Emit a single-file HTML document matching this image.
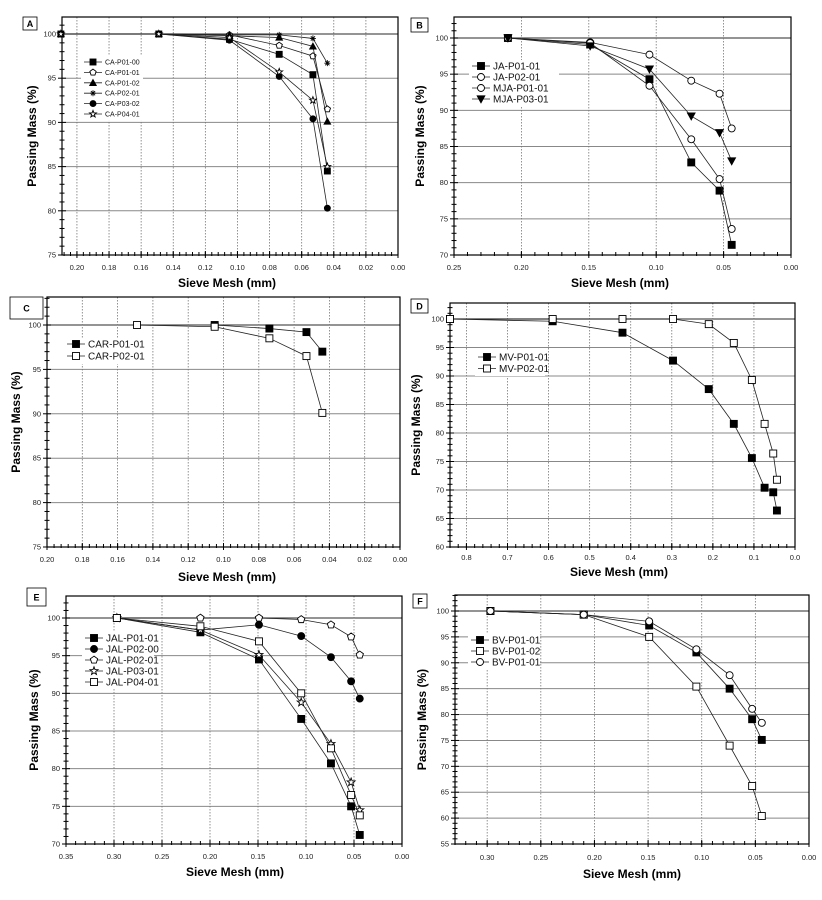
<!DOCTYPE html>
<html><head><meta charset="utf-8"><style>
html,body{margin:0;padding:0;background:#fff;}
svg{display:block;font-family:"Liberation Sans",Arial,sans-serif;}
</style></head><body>
<svg id="chart" width="822" height="900" viewBox="0 0 822 900" xmlns="http://www.w3.org/2000/svg"></svg>
<script>
// ---- Data ----
const sieveA = [0.21, 0.149, 0.105, 0.074, 0.053, 0.044];
const namesA = ["CA-P01-00","CA-P01-01","CA-P01-02","CA-P02-01","CA-P03-02","CA-P04-01"];
const caP0100 = [100,100,99.4,97.7,95.4,84.5];
const caP0101 = [100,100,99.9,98.7,97.5,91.5];
const caP0102 = [100,100,99.8,99.6,98.6,90.1];
const caP0201 = [100,100,99.9,99.9,99.5,96.7];
const caP0302 = [100,100,99.3,95.2,90.4,80.3];
const caP0401 = [100,100,99.6,95.7,92.5,85.0];
const xTicksA = ["0.20","0.18","0.16","0.14","0.12","0.10","0.08","0.06","0.04","0.02","0.00"];
const yTicksA = [75,80,85,90,95,100];

const sieveB = [0.21, 0.149, 0.105, 0.074, 0.053, 0.044];
const namesB = ["JA-P01-01","JA-P02-01","MJA-P01-01","MJA-P03-01"];
const jaP0101 = [100,99.1,94.3,82.8,78.9,71.4];
const jaP0201 = [100,99.4,97.7,94.1,92.3,87.5];
const mjaP0101 = [100,99.3,93.4,86.0,80.5,73.6];
const mjaP0301 = [100,98.9,95.7,89.2,86.9,83.0];
const xTicksB = ["0.25","0.20","0.15","0.10","0.05","0.00"];
const yTicksB = [70,75,80,85,90,95,100];

const sieveC1 = [0.105, 0.074, 0.053, 0.044];
const sieveC2 = [0.149, 0.105, 0.074, 0.053, 0.044];
const namesC = ["CAR-P01-01","CAR-P02-01"];
const carP0101 = [100,99.6,99.2,97.0];
const carP0201 = [100,99.8,98.5,96.5,90.1];
const xTicksC = ["0.20","0.18","0.16","0.14","0.12","0.10","0.08","0.06","0.04","0.02","0.00"];
const yTicksC = [75,80,85,90,95,100];

const sieveD = [0.84,0.59,0.42,0.297,0.21,0.149,0.105,0.074,0.053,0.044];
const namesD = ["MV-P01-01","MV-P02-01"];
const mvP0101 = [100,99.6,97.6,92.7,87.7,81.6,75.6,70.4,69.6,66.4];
const mvP0201 = [100,100,100,100,99.1,95.8,89.3,81.6,76.4,71.8];
const xTicksD = ["0.8","0.7","0.6","0.5","0.4","0.3","0.2","0.1","0.0"];
const yTicksD = [60,65,70,75,80,85,90,95,100];

const sieveE = [0.297,0.21,0.149,0.105,0.074,0.053,0.044];
const namesE = ["JAL-P01-01","JAL-P02-00","JAL-P02-01","JAL-P03-01","JAL-P04-01"];
const jalP0101 = [100,98.1,94.5,86.6,80.7,75.0,71.2];
const jalP0200 = [100,98.4,99.1,97.6,94.8,91.6,89.3];
const jalP0201 = [100,100,100,99.8,99.1,97.5,95.1];
const jalP0301 = [100,98.4,95.1,88.8,83.3,78.2,74.5];
const jalP0401 = [100,98.9,96.9,90.0,82.7,76.5,73.8];
const xTicksE = ["0.35","0.30","0.25","0.20","0.15","0.10","0.05","0.00"];
const yTicksE = [70,75,80,85,90,95,100];

const sieveF = [0.297,0.21,0.149,0.105,0.074,0.053,0.044];
const namesF = ["BV-P01-01","BV-P01-02","BV-P01-01"];
const bvP0101 = [100,99.3,97.2,92.0,85.0,79.1,75.1];
const bvP0102 = [100,99.3,95.0,85.4,74.0,66.2,60.4];
const bvP0101b = [100,99.3,98.0,92.6,87.6,81.1,78.4];
const xTicksF = ["0.30","0.25","0.20","0.15","0.10","0.05","0.00"];
const yTicksF = [55,60,65,70,75,80,85,90,95,100];

// ---- Layout ----
const NS = "http://www.w3.org/2000/svg";
const svg = document.getElementById("chart");
function mk(tag, attrs, parent){
  const e = document.createElementNS(NS, tag);
  for (const k in attrs) e.setAttribute(k, attrs[k]);
  (parent||svg).appendChild(e);
  return e;
}

function marker(g, type, cx, cy, r){
  let e;
  const fillC = type.endsWith("-f") ? "#000" : "#fff";
  const base = {stroke:"#000","stroke-width":0.9, fill:fillC};
  if (type.startsWith("sq")) e = mk("rect", Object.assign({x:cx-r,y:cy-r,width:2*r,height:2*r}, base), g);
  else if (type.startsWith("ci")) e = mk("circle", Object.assign({cx:cx,cy:cy,r:r}, base), g);
  else if (type.startsWith("tri")) e = mk("polygon", Object.assign({points:`${cx},${cy-r*1.1} ${cx-r*1.1},${cy+r*0.9} ${cx+r*1.1},${cy+r*0.9}`}, base), g);
  else if (type.startsWith("dn")) e = mk("polygon", Object.assign({points:`${cx},${cy+r*1.1} ${cx-r*1.1},${cy-r*0.9} ${cx+r*1.1},${cy-r*0.9}`}, base), g);
  else if (type.startsWith("hex")) {
    let p=[]; for(let i=0;i<5;i++){const a=-Math.PI/2+i*2*Math.PI/5;p.push((cx+r*1.1*Math.cos(a)).toFixed(2)+","+(cy+r*1.1*Math.sin(a)).toFixed(2));}
    e = mk("polygon", Object.assign({points:p.join(" ")}, base), g);
  } else if (type.startsWith("star")) {
    let p=[]; for(let i=0;i<10;i++){const a=-Math.PI/2+i*Math.PI/5;const rr=i%2?r*0.5:r*1.2;p.push((cx+rr*Math.cos(a)).toFixed(2)+","+(cy+rr*Math.sin(a)).toFixed(2));}
    e = mk("polygon", Object.assign({points:p.join(" ")}, base), g);
  } else if (type.startsWith("ast")) {
    e = mk("path", {d:`M${cx-r},${cy}H${cx+r}M${cx-r*0.7},${cy-r*0.7}L${cx+r*0.7},${cy+r*0.7}M${cx-r*0.7},${cy+r*0.7}L${cx+r*0.7},${cy-r*0.7}M${cx},${cy-r}V${cy+r}`, stroke:"#000","stroke-width":0.9, fill:"none"}, g);
  }
  return e;
}

function drawPanel(p){
  const g = mk("g", {});
  
  
  const X = v => p.L + (p.xmax - v) / (p.xmax - p.xmin) * (p.R - p.L);
  const Y = v => p.yAt100 + (100 - v) / (100 - p.ymin) * (p.B - p.yAt100);
  // horizontal gridlines
  p.yTicks.forEach(t => {
    const l = mk("line", {x1:p.L,x2:p.R,y1:Y(t),y2:Y(t),stroke:t===100?"#555":"#888","stroke-width":t===100?1.2:1}, g);
    
    
  });
  // vertical dotted gridlines
  p.xTicks.forEach(t => {
    const v = parseFloat(t), x = X(v);
    if (x > p.L+2 && x < p.R-2) {
      const l = mk("line", {x1:x,x2:x,y1:p.T,y2:p.B,stroke:"#777","stroke-width":0.8,"stroke-dasharray":"1.5,1.5"}, g);
      
      
    }
  });
  // frame
  const fr = mk("rect", {x:p.L,y:p.T,width:p.R-p.L,height:p.B-p.T,fill:"none",stroke:"#000","stroke-width":1.2}, g);
  
  
  // y ticks
  const yTop = p.ymin + (100 - p.ymin) * (p.B - p.T) / (p.B - p.yAt100);
  for (let v = p.ymin; v <= yTop + 0.001; v += 1) {
    const major = Math.abs(v % 5) < 0.001;
    const w = major ? 4 : 2.5;
    mk("line", {x1:p.L-w,x2:p.L+w,y1:Y(v),y2:Y(v),stroke:"#000","stroke-width":1}, g);
  }
  p.yTicks.forEach(t => {
    const tx = mk("text", {x:p.L-6,y:Y(t)+2.5,"font-size":7.5,"text-anchor":"end",fill:"#222"}, g);
    tx.textContent = t;
    
    
  });
  // x ticks
  const step = p.xMinor;
  for (let v = p.xmin; v <= p.xmax + 1e-9; v += step) {
    const x = X(v); if (x < p.L - 0.5) continue;
    mk("line", {x1:x,x2:x,y1:p.B-3,y2:p.B+1,stroke:"#000","stroke-width":1}, g);
  }
  p.xTicks.forEach(t => {
    const x = X(parseFloat(t));
    mk("line", {x1:x,x2:x,y1:p.B-4,y2:p.B+3,stroke:"#000","stroke-width":1}, g);
    const tx = mk("text", {x:x,y:p.tickY,"font-size":7.5,"text-anchor":"middle",fill:"#222"}, g);
    tx.textContent = t;
    
    
  });
  // titles
  const xt = mk("text", {x:p.xTitleX,y:p.xTitleY,"font-size":12,"font-weight":"bold","text-anchor":"middle"}, g);
  xt.textContent = "Sieve Mesh (mm)";
  
  
  const ytx = p.yTitleX, yty = (p.T + p.B) / 2;
  const yt = mk("text", {x:ytx,y:yty,"font-size":12,"font-weight":"bold","text-anchor":"middle",transform:`rotate(-90 ${ytx} ${yty})`}, g);
  yt.textContent = "Passing Mass (%)";
  
  
  // panel label box
  const lb = mk("rect", {x:p.lab[0],y:p.lab[1],width:p.lab[2],height:p.lab[3],fill:"#fff",stroke:"#000","stroke-width":0.8}, g);
  
  
  const lt = mk("text", {x:p.lab[0]+p.lab[2]/2,y:p.lab[1]+p.lab[3]/2+3.5,"font-size":9,"font-weight":"bold","text-anchor":"middle"}, g);
  lt.textContent = p.id;
  
  
  // legend background
  const lg = p.legend;
  const lbg = mk("rect", {x:lg.x-12,y:lg.y-6,width:lg.w,height:lg.dy*p.series.length+2,fill:"#fff"}, g);
  
  
  // series
  p.series.forEach((s, i) => {
    const sg = mk("g", {}, g);
    
    
    const pts = s.x.map((xv, j) => X(xv).toFixed(2) + "," + Y(s.y[j]).toFixed(2)).join(" ");
    const pl = mk("polyline", {points:pts,fill:"none",stroke:"#222","stroke-width":0.8}, sg);
    
    
    s.x.forEach((xv, j) => {
      const m = marker(sg, s.m, X(xv), Y(s.y[j]), p.mr);
      
      
    });
    // legend entry
    const ly = lg.y + i * lg.dy;
    const le = mk("g", {}, g);
    
    
    mk("line", {x1:lg.x-9,x2:lg.x+9,y1:ly,y2:ly,stroke:"#222","stroke-width":0.8}, le);
    marker(le, s.m, lg.x, ly, p.mr);
    const t = mk("text", {x:lg.x+12,y:ly+lg.fs*0.36,"font-size":lg.fs,fill:"#111"}, le);
    t.textContent = s.name;
  });
}

const panels = [
 {id:"A",L:62,R:398,T:17,B:255,xmin:0,xmax:0.2093,xMinor:0.004,yAt100:34,ymin:75,xTicks:xTicksA,yTicks:yTicksA,
  tickY:270,xTitleX:227,xTitleY:287,yTitleX:36,lab:[23,17,14,13],mr:3,
  legend:{x:93,y:62,dy:10.4,fs:7,w:62},
  series:[{name:namesA[0],x:sieveA,y:caP0100,m:"sq-f"},{name:namesA[1],x:sieveA,y:caP0101,m:"hex-o"},{name:namesA[2],x:sieveA,y:caP0102,m:"tri-f"},
          {name:namesA[3],x:sieveA,y:caP0201,m:"ast"},{name:namesA[4],x:sieveA,y:caP0302,m:"ci-f"},{name:namesA[5],x:sieveA,y:caP0401,m:"star-o"}]},
 {id:"B",L:454,R:791,T:17,B:255,xmin:0,xmax:0.25,xMinor:0.01,yAt100:38,ymin:70,xTicks:xTicksB,yTicks:yTicksB,
  tickY:270,xTitleX:620,xTitleY:287,yTitleX:424,lab:[411,18,17,14],mr:3.5,
  legend:{x:481,y:66,dy:11,fs:10,w:90},
  series:[{name:namesB[0],x:sieveB,y:jaP0101,m:"sq-f"},{name:namesB[1],x:sieveB,y:jaP0201,m:"ci-o"},{name:namesB[2],x:sieveB,y:mjaP0101,m:"ci-o"},{name:namesB[3],x:sieveB,y:mjaP0301,m:"dn-f"}]},
 {id:"C",L:47,R:400,T:297,B:547,xmin:0,xmax:0.2,xMinor:0.004,yAt100:325,ymin:75,xTicks:xTicksC,yTicks:yTicksC,
  tickY:562,xTitleX:227,xTitleY:581,yTitleX:20,lab:[10,297,33,22],mr:3.5,
  legend:{x:76,y:344,dy:12,fs:10,w:80},
  series:[{name:namesC[0],x:sieveC1,y:carP0101,m:"sq-f"},{name:namesC[1],x:sieveC2,y:carP0201,m:"sq-o"}]},
 {id:"D",L:450,R:795,T:303,B:547,xmin:0,xmax:0.84,xMinor:0.02,yAt100:319,ymin:60,xTicks:xTicksD,yTicks:yTicksD,
  tickY:560,xTitleX:619,xTitleY:576,yTitleX:420,lab:[411,299,17,14],mr:3.5,
  legend:{x:487,y:357,dy:11.5,fs:10,w:70},
  series:[{name:namesD[0],x:sieveD,y:mvP0101,m:"sq-f"},{name:namesD[1],x:sieveD,y:mvP0201,m:"sq-o"}]},
 {id:"E",L:66,R:402,T:596,B:844,xmin:0,xmax:0.35,xMinor:0.01,yAt100:618,ymin:70,xTicks:xTicksE,yTicks:yTicksE,
  tickY:859,xTitleX:235,xTitleY:876,yTitleX:38,lab:[27,588,19,18],mr:3.5,
  legend:{x:94,y:638,dy:11,fs:10,w:72},
  series:[{name:namesE[0],x:sieveE,y:jalP0101,m:"sq-f"},{name:namesE[1],x:sieveE,y:jalP0200,m:"ci-f"},{name:namesE[2],x:sieveE,y:jalP0201,m:"hex-o"},
          {name:namesE[3],x:sieveE,y:jalP0301,m:"star-o"},{name:namesE[4],x:sieveE,y:jalP0401,m:"sq-o"}]},
 {id:"F",L:455,R:809,T:595,B:844,xmin:0,xmax:0.33,xMinor:0.01,yAt100:611,ymin:55,xTicks:xTicksF,yTicks:yTicksF,
  tickY:860,xTitleX:632,xTitleY:878,yTitleX:426,lab:[413,594,14,14],mr:3.5,
  legend:{x:480,y:640,dy:11,fs:10,w:72},
  series:[{name:namesF[0],x:sieveF,y:bvP0101,m:"sq-f"},{name:namesF[1],x:sieveF,y:bvP0102,m:"sq-o"},{name:namesF[2],x:sieveF,y:bvP0101b,m:"ci-o"}]}
];
panels.forEach(drawPanel);
</script>
</body></html>
